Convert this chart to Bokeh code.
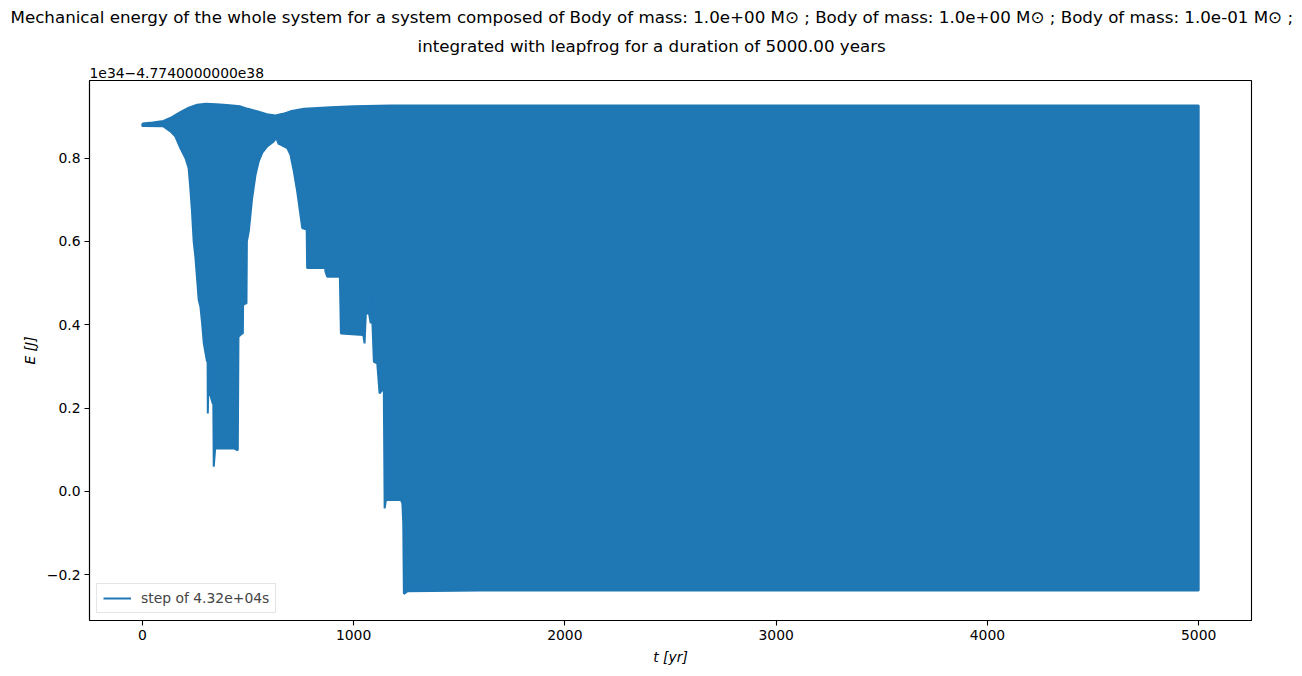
from bokeh.plotting import figure
from bokeh.models import Range1d, FixedTicker, Title, Legend, LegendItem
from bokeh.embed import file_html
from bokeh.resources import INLINE

# ---- data (time in years, energy offset units) ----
t_upper = [0, 50, 100, 140, 180, 220, 260, 300, 350, 400, 464, 500, 543, 590, 630,
           665, 701, 765, 891, 1000, 1175, 1500, 5000]
e_upper = [0.883, 0.885, 0.889, 0.898, 0.910, 0.921, 0.928, 0.930, 0.929, 0.927, 0.924,
           0.918, 0.912, 0.905, 0.902, 0.906, 0.912, 0.918, 0.922, 0.924, 0.926, 0.926, 0.926]

t_lower = [0, 100, 133, 156, 180, 204, 219, 227, 235, 243, 251, 267, 275, 283, 291, 306,
           309, 310, 312, 322, 333, 336, 338, 345, 433, 449, 452, 455, 472, 476, 477, 488,
           493, 495, 504, 520, 536, 551, 567, 591, 622, 634, 645, 654, 686, 701, 717, 733,
           757, 778, 780, 865, 867, 875, 935, 940, 1046, 1052, 1058, 1073, 1081, 1085, 1088,
           1096, 1112, 1123, 1136, 1143, 1147, 1153, 1223, 1231, 1235, 1238, 1254, 1600, 5000]
e_lower = [0.877, 0.876, 0.864, 0.852, 0.824, 0.800, 0.776, 0.728, 0.672, 0.600, 0.563,
           0.459, 0.443, 0.403, 0.355, 0.312, 0.312, 0.187, 0.231, 0.231, 0.211, 0.211,
           0.059, 0.103, 0.103, 0.099, 0.099, 0.371, 0.379, 0.379, 0.447, 0.451, 0.451,
           0.600, 0.624, 0.704, 0.760, 0.792, 0.812, 0.828, 0.840, 0.848, 0.834, 0.832,
           0.824, 0.808, 0.768, 0.720, 0.632, 0.628, 0.536, 0.536, 0.527, 0.515, 0.515,
           0.379, 0.375, 0.355, 0.427, 0.427, 0.403, 0.467, 0.419, 0.311, 0.307, 0.235,
           0.243, 0.243, -0.041, -0.021, -0.020, -0.029, -0.077, -0.246, -0.240, -0.238, -0.238]

x_ticks = [0, 1000, 2000, 3000, 4000, 5000]
y_ticks = [-0.2, 0.0, 0.2, 0.4, 0.6, 0.8]
y_tick_labels = ["\u22120.2", "0.0", "0.2", "0.4", "0.6", "0.8"]

title_line1 = ("Mechanical energy of the whole system for a system composed of Body of mass: "
               "1.0e+00 M\u2299 ; Body of mass: 1.0e+00 M\u2299 ; Body of mass: 1.0e-01 M\u2299 ;")
title_line2 = "integrated with leapfrog for a duration of 5000.00 years"
offset_text = "1e34\u22124.7740000000e38"
legend_text = "step of 4.32e+04s"

FONT = "DejaVu Sans"
BLUE = "#1f77b4"

# polygon outline built from the two envelopes
poly_x = t_upper + t_lower[::-1]
poly_y = e_upper + e_lower[::-1]

p = figure(width=1302, height=676, output_backend="svg", toolbar_location=None,
           x_range=Range1d(-250, 5250), y_range=Range1d(-0.31, 0.986),
           min_border_left=89, min_border_right=51, min_border_top=80, min_border_bottom=56)

p.patch(poly_x, poly_y, fill_color=BLUE, line_color=None)
outline = p.line(poly_x + [poly_x[0]], poly_y + [poly_y[0]], line_color=BLUE, line_width=2)

p.xgrid.visible = False
p.ygrid.visible = False
p.outline_line_color = "black"
p.outline_line_width = 1.1
p.background_fill_color = "white"
p.border_fill_color = "white"

p.xaxis.ticker = FixedTicker(ticks=x_ticks)
p.yaxis.ticker = FixedTicker(ticks=y_ticks)
p.yaxis.major_label_overrides = {v: s for v, s in zip(y_ticks, y_tick_labels)}
for ax in (p.xaxis[0], p.yaxis[0]):
    ax.major_tick_in = 0
    ax.major_tick_out = 5
    ax.minor_tick_in = 0
    ax.minor_tick_out = 0
    ax.major_tick_line_color = "black"
    ax.major_tick_line_width = 1.1
    ax.axis_line_color = "black"
    ax.axis_line_width = 1.1
    ax.major_label_text_font = FONT
    ax.major_label_text_font_size = "13.9px"
    ax.major_label_text_color = "black"
    ax.axis_label_text_font = FONT
    ax.axis_label_text_font_size = "13.9px"
    ax.axis_label_text_font_style = "italic"
    ax.axis_label_text_color = "black"
    ax.major_label_standoff = 4
p.xaxis.axis_label = "t [yr]"
p.yaxis.axis_label = "E [J]"
p.xaxis.axis_label_standoff = 6
p.yaxis.axis_label_standoff = 6

# outermost: title line 1; then line 2; closest to the frame: offset text
p.title.text = title_line1
p.title.align = "left"
p.title.offset = -79
p.title.text_font = FONT
p.title.text_font_size = "16.7px"
p.title.text_font_style = "normal"
p.title.text_color = "black"
p.title.standoff = 0
p.add_layout(Title(text=offset_text, align="left", text_font=FONT, text_color="black",
                   text_font_size="13.9px", text_font_style="normal", standoff=6), "above")
p.add_layout(Title(text=title_line2, align="left", offset=328, text_font=FONT,
                   text_color="black", text_font_size="16.7px", text_font_style="normal",
                   standoff=14), "above")

legend = Legend(items=[LegendItem(label=legend_text, renderers=[outline])],
                location="bottom_left", margin=7, padding=6, spacing=0,
                glyph_width=28, glyph_height=14, label_standoff=10,
                label_text_font=FONT, label_text_font_size="13.9px",
                border_line_color="#cccccc", border_line_width=1,
                background_fill_color="white", background_fill_alpha=0.8)
p.add_layout(legend)

open("out.html", "w").write(file_html(p, INLINE))
